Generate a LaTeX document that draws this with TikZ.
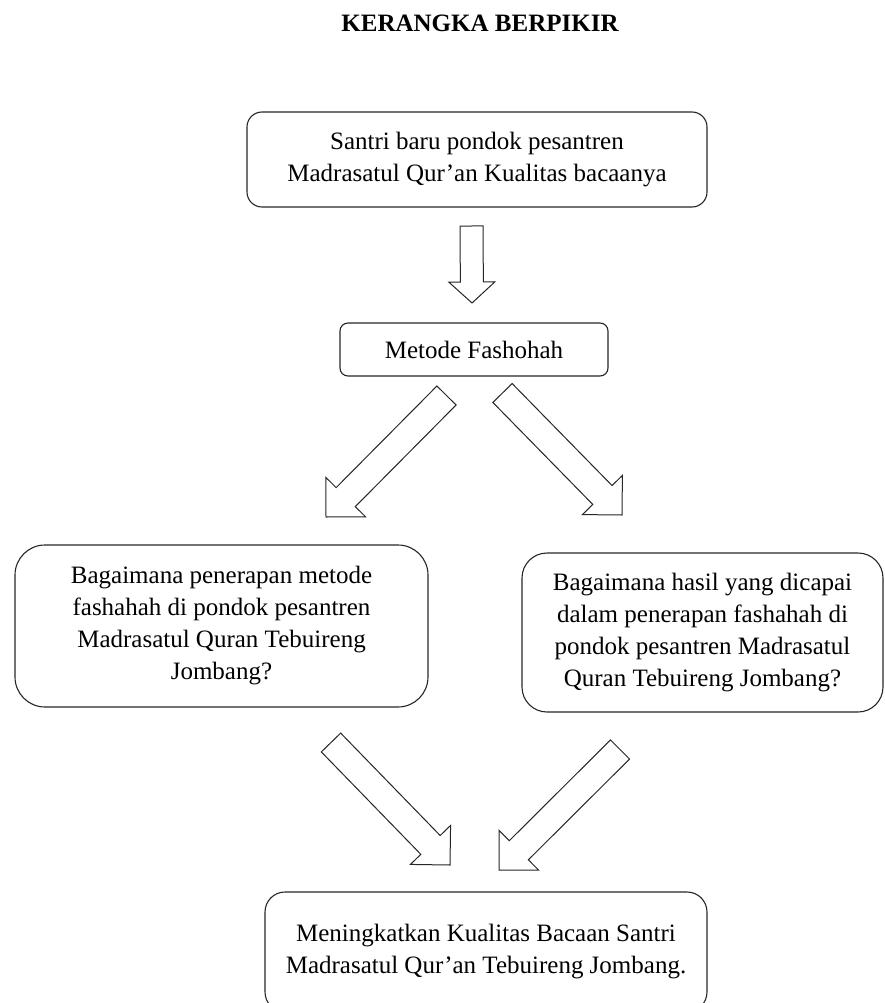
\documentclass[tikz,border=0pt]{standalone}
\usepackage{fontspec}
\setmainfont{Liberation Serif}
\usetikzlibrary{calc}
\tikzset{
  box/.style={draw=black!85, line width=1.1pt, align=center, inner sep=0pt,
    font=\fontsize{25}{32}\selectfont},
  blk/.style={draw=black!85, line width=1pt, line join=miter, fill=white}
}
% #1 start, #2 end, #3 half shaft width, #4 half head width, #5 head length
\newcommand\blockarr[5]{%
  \path ($(#2)!#5!(#1)$) coordinate (hb);
  \draw[blk] ($(#1)!#3!90:(#2)$) -- ($(hb)!#3!90:(#2)$) -- ($(hb)!#4!90:(#2)$)
    -- (#2) -- ($(hb)!#4!-90:(#2)$) -- ($(hb)!#3!-90:(#2)$)
    -- ($(#1)!#3!-90:(#2)$) -- cycle;
}
\begin{document}
\begin{tikzpicture}[x=1pt,y=1pt]
\useasboundingbox (0,0) rectangle (885,-1003);
\node[font=\fontsize{25}{32}\selectfont\bfseries, anchor=base] (title) at (480,-32) {KERANGKA BERPIKIR};

\node[box, rounded corners=15pt, minimum width=460pt, minimum height=95pt] (top) at (477,-159.5)
  {Santri baru pondok pesantren\\Madrasatul Qur’an Kualitas bacaanya};
\node[box, rounded corners=8pt, minimum width=268pt, minimum height=53pt] (metode) at (474,-349.5)
  {Metode Fashohah};
\node[box, rounded corners=30pt, minimum width=413pt, minimum height=162pt] (left) at (221.5,-626)
  {Bagaimana penerapan metode\\fashahah di pondok pesantren\\Madrasatul Quran Tebuireng\\Jombang?};
\node[box, rounded corners=25pt, minimum width=361pt, minimum height=159pt] (right) at (702.5,-632.5)
  {Bagaimana hasil yang dicapai\\dalam penerapan fashahah di\\pondok pesantren Madrasatul\\Quran Tebuireng Jombang?};
\node[box, rounded corners=20pt, minimum width=442pt, minimum height=120pt] (bottom) at (486,-952)
  {Meningkatkan Kualitas Bacaan Santri\\Madrasatul Qur’an Tebuireng Jombang.};

\coordinate (a0s) at (471.5,-226);  \coordinate (a0e) at (472,-303);
\coordinate (a1s) at (446.5,-395.5); \coordinate (a1e) at (326,-517);
\coordinate (a2s) at (502.5,-393);  \coordinate (a2e) at (622,-515);
\coordinate (a3s) at (331,-742.5);  \coordinate (a3e) at (450,-865);
\coordinate (a4s) at (620,-749.5);  \coordinate (a4e) at (499,-870);

\blockarr{a0s}{a0e}{11.5pt}{23pt}{21pt}
\blockarr{a1s}{a1e}{13.5pt}{28pt}{28pt}
\blockarr{a2s}{a2e}{13.5pt}{28pt}{28pt}
\blockarr{a3s}{a3e}{13.5pt}{28pt}{28pt}
\blockarr{a4s}{a4e}{13.5pt}{28pt}{28pt}
\end{tikzpicture}
\end{document}
